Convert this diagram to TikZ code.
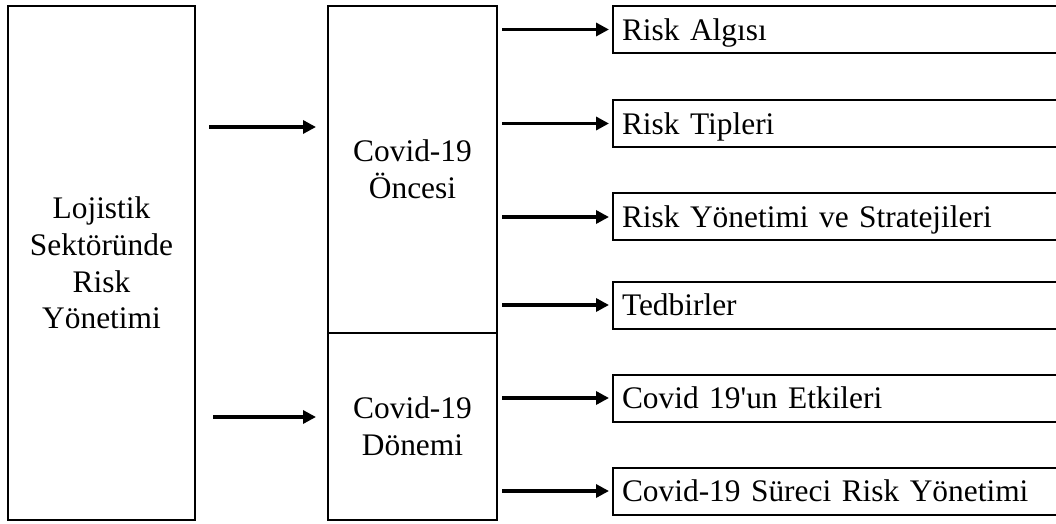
\documentclass[tikz,border=0pt]{standalone}
\usepackage{fontspec}
\setmainfont{Liberation Serif}
\usetikzlibrary{arrows.meta}

\tikzset{
  box/.style={draw, line width=1pt, inner sep=0pt, align=center,
    font=\fontsize{15.7}{18.3}\selectfont},
  item/.style={draw, line width=1pt, anchor=west, minimum height=23.5pt,
    text width=220pt, text depth=0pt, inner xsep=4.5pt, inner ysep=0pt, align=left,
    font=\fontsize{15.7}{18.3}\selectfont},
  arr/.style={-{Triangle[length=6.5pt,width=6.5pt]}, line width=1.7pt},
}

\begin{document}
\begin{tikzpicture}[x=0.5pt,y=-0.5pt]
  \useasboundingbox (0,0) rectangle (1056,524);
  % main blocks
  \node[box, minimum width=93.5pt, minimum height=257pt] (lsr) at (101.5,263)
    {Lojistik\\Sektöründe\\Risk\\Yönetimi};
  \node[box, minimum width=84.5pt, minimum height=163.5pt] (once) at (412.5,169.5)
    {Covid-19\\Öncesi};
  \node[box, minimum width=84.5pt, minimum height=93.5pt] (donem) at (412.5,426.5)
    {Covid-19\\Dönemi};
  % topics
  \node[item] (algi) at (612,29.5) {Risk Algısı};
  \node[item] (tip) at (612,123.5) {Risk Tipleri};
  \node[item] (strat) at (612,217) {Risk Yönetimi ve Stratejileri};
  \node[item] (tedbir) at (612,305) {Tedbirler};
  \node[item] (etki) at (612,398) {Covid 19\textquotesingle un Etkileri};
  \node[item] (surec) at (612,491) {Covid-19 Süreci Risk Yönetimi};
  % arrows into the periods
  \coordinate (in1) at ([yshift=21.25pt]once.west);
  \coordinate (in2) at ([yshift=4.75pt]donem.west);
  \draw[arr, shorten <=6.5pt, shorten >=5.5pt] (lsr.east |- in1) -- (in1);
  \draw[arr, shorten <=8.5pt, shorten >=5.5pt] (lsr.east |- in2) -- (in2);
  % arrows out to the topics
  \foreach \t in {algi,tip,strat,tedbir}
    \draw[arr, shorten <=2pt, shorten >=1.5pt] (once.east |- \t.west) -- (\t.west);
  \foreach \t in {etki,surec}
    \draw[arr, shorten <=2pt, shorten >=1.5pt] (donem.east |- \t.west) -- (\t.west);
\end{tikzpicture}
\end{document}
